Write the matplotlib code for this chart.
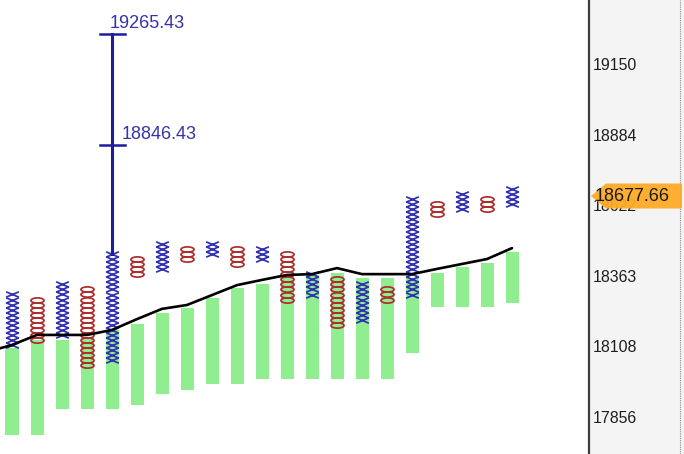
import numpy as np
import matplotlib
matplotlib.use("Agg")
import matplotlib.pyplot as plt
from matplotlib.path import Path
from matplotlib.patches import Polygon
from matplotlib.lines import Line2D
from matplotlib.transforms import Affine2D, IdentityTransform
from matplotlib.ticker import FixedLocator, NullLocator, NullFormatter

plt.rcParams['font.family'] = ['Liberation Sans', 'DejaVu Sans']

# --- POINT & FIGURE DATA ---
box_pct = 0.1   # box size in percent
col_type = ['X', 'O', 'X', 'O', 'X', 'O', 'X', 'O', 'X', 'O', 'X',
            'O', 'X', 'O', 'X', 'O', 'X', 'O', 'X', 'O', 'X']
col_top = [18295.0, 18276.7, 18331.6, 18313.3, 18441.8, 18423.4, 18478.7,
           18460.2, 18478.7, 18460.2, 18460.2, 18441.8, 18368.2, 18349.9,
           18331.6, 18313.3, 18645.7, 18627.0, 18664.3, 18645.7, 18683.0]
col_boxes = [11, 9, 11, 16, 22, 4, 6, 3, 3, 4, 3, 10, 5, 10, 8, 3, 20, 3, 4, 3, 4]

# green range bars per column
bar_top = [18102, 18131, 18131, 18142, 18167, 18188, 18228, 18246, 18282, 18319,
           18333, 18366, 18366, 18373, 18355, 18355, 18355, 18373, 18395, 18410, 18450]
bar_bottom = [17793, 17793, 17885, 17885, 17885, 17899, 17938, 17952, 17973, 17973,
              17991, 17991, 17991, 17991, 17991, 17991, 18084, 18250, 18250, 18250, 18264]

# moving average (starts one column before the first visible one)
ma_x = list(range(-1, 21))
ma_val = [18088, 18113, 18149, 18149, 18149, 18167, 18206, 18243, 18257, 18293, 18329,
          18348, 18366, 18369, 18391, 18369, 18369, 18369, 18388, 18406, 18424, 18464]

# price target
target_col = 4
target_levels = [19265.43, 18846.43]
last_price = 18677.66

y_ticks = [17856, 18108, 18363, 18622, 18884, 19150]

# marker shapes: flat X and flat O
x_path = Path([(-1, -0.42), (1, 0.42), (-1, 0.42), (1, -0.42)],
              [Path.MOVETO, Path.LINETO, Path.MOVETO, Path.LINETO])
o_path = Path.unit_circle().transformed(Affine2D().scale(1, 0.40))

fig = plt.figure(figsize=(6.84, 4.54), dpi=100, facecolor='#f4f4f4')
ax = fig.add_axes([0, 0, 589 / 684, 1])
ax.set_facecolor('white')

xs = np.arange(len(col_type))
ax.bar(xs, np.array(bar_top) - np.array(bar_bottom), bottom=bar_bottom,
       width=0.52, color='#90ee90', zorder=1)

step = 1 + box_pct / 100
for i, (kind, top, n) in enumerate(zip(col_type, col_top, col_boxes)):
    prices = top / step ** np.arange(n)
    if kind == 'X':
        ax.plot([i] * n, prices, ls='none', marker=x_path, ms=9.2,
                mec='#3030b0', mfc='none', mew=1.25, zorder=2)
    else:
        ax.plot([i] * n, prices, ls='none', marker=o_path, ms=9.4,
                mec='#ad2d2d', mfc='none', mew=1.25, zorder=2)

ax.plot(ma_x, ma_val, color='black', lw=1.9, zorder=3, solid_capstyle='round')

# target line with its caps
ax.plot([target_col, target_col], [col_top[target_col], target_levels[0]],
        color='#1c1c9c', lw=2.2, zorder=4)
for k, lev in enumerate(target_levels):
    ax.plot([target_col - 0.5, target_col + 0.5], [lev, lev], color='#1c1c9c', lw=1.8, zorder=4)
    ax.annotate(f'{lev:.2f}', (target_col, lev), xytext=(-2 if k == 0 else 7, 1.5),
                textcoords='offset points', fontsize=13, color='#3535a8',
                ha='left', va='bottom', zorder=5)

ax.set_yscale('log')
ax.set_ylim(17725.8, 19394.4)
ax.set_xlim(-0.48, -0.48 + 589 / 25)

ax.yaxis.tick_right()
ax.yaxis.set_major_locator(FixedLocator(y_ticks))
ax.set_yticklabels([str(t) for t in y_ticks])
ax.yaxis.set_minor_locator(NullLocator())
ax.yaxis.set_minor_formatter(NullFormatter())
ax.tick_params(axis='y', length=0, pad=3, labelsize=11.4, labelcolor='#1e1e1e')
ax.set_xticks([])
for side in ['left', 'top', 'bottom']:
    ax.spines[side].set_visible(False)
ax.spines['right'].set_color('#3c3c3c')
ax.spines['right'].set_linewidth(1.6)

# dotted border on the far right
fig.add_artist(Line2D([680 / 684, 680 / 684], [0, 1], transform=fig.transFigure,
                      ls=(0, (1, 1)), color='#8a8a8a', lw=0.8))

# last price tag
yd = ax.transData.transform((0, last_price))[1] - 6
xl = ax.transAxes.transform((1, 0))[0]
tag = Polygon([(xl + 2, yd), (xl + 17, yd + 12.5), (xl + 93, yd + 12.5),
               (xl + 93, yd - 12.5), (xl + 17, yd - 12.5)], closed=True,
              transform=IdentityTransform(), facecolor='#ffab25', edgecolor='none',
              alpha=0.95, zorder=5)
fig.add_artist(tag)
fig.text(xl + 6, yd, f'{last_price:.2f}', transform=IdentityTransform(),
         fontsize=13, color='#1a1a1a', ha='left', va='center', zorder=6)

fig.savefig('out.png', dpi=100, facecolor=fig.get_facecolor())
